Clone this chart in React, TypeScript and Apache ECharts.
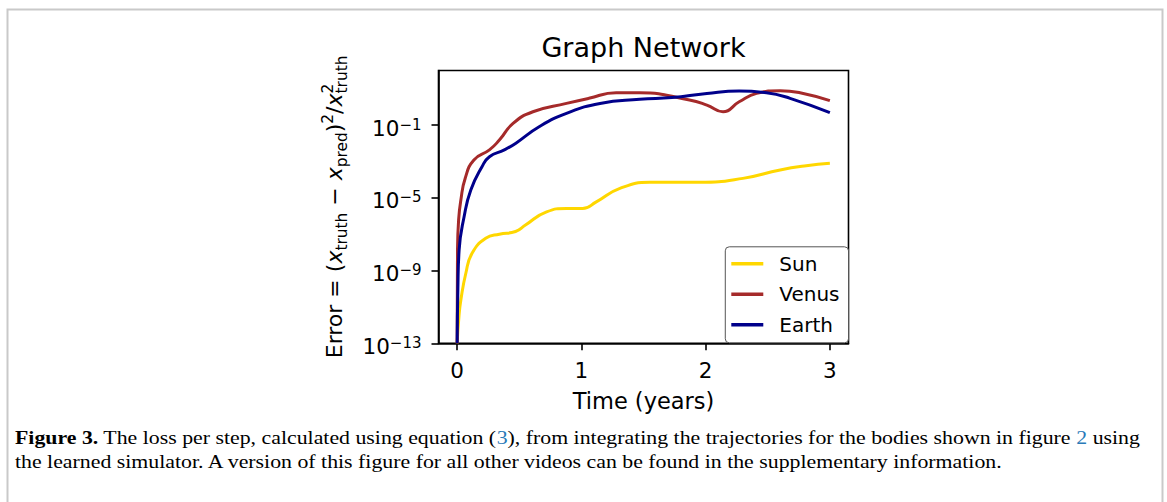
import React, { useEffect, useRef } from 'react';
import * as echarts from 'echarts';

// ---------- data ----------
const chartTitle = 'Graph Network';
const xAxisTitle = 'Time (years)';
const xTickValues = [0, 1, 2, 3];
const yTickExponents = [-13, -9, -5, -1];
const yMinExp = -13;
const yMaxExp = 2;
const xMin = -0.15;
const xMax = 3.15;

const seriesNames = ['Sun', 'Venus', 'Earth'];
const seriesColors = ['#FFD700', '#A52A2A', '#00008B'];

const sunTime = [0, 0.015, 0.03, 0.07, 0.12, 0.23, 0.34, 0.47, 0.55, 0.72, 0.88, 1.01, 1.12, 1.31, 1.55, 1.95, 2.3, 2.6, 2.81, 3.0];
const sunError = [1e-13, 3.2e-12, 2.4e-11, 7.1e-10, 8.9e-9, 5.9e-8, 1.0e-7, 1.4e-7, 3.2e-7, 1.7e-6, 2.6e-6, 2.6e-6, 6.0e-6, 3.3e-5, 7.1e-5, 7.1e-5, 1.17e-4, 3.4e-4, 5.8e-4, 7.9e-4];

const venusTime = [0, 0.003, 0.012, 0.03, 0.065, 0.135, 0.26, 0.34, 0.45, 0.61, 0.88, 1.06, 1.28, 1.47, 1.87, 2.01, 2.14, 2.27, 2.41, 2.6, 2.76, 3.0];
const venusError = [1e-13, 1.35e-8, 6.3e-7, 7.6e-6, 1.2e-4, 1.2e-3, 4.3e-3, 1.5e-2, 0.123, 0.54, 1.55, 2.95, 6.0, 6.0, 2.4, 1.26, 0.54, 1.9, 5.5, 7.8, 6.0, 2.2];

const earthTime = [0, 0.006, 0.016, 0.056, 0.11, 0.2, 0.26, 0.38, 0.47, 0.66, 0.88, 1.15, 1.47, 1.73, 2.01, 2.27, 2.49, 2.68, 3.0];
const earthError = [1e-13, 1e-10, 1.35e-8, 9.1e-7, 2.7e-5, 5.1e-4, 1.8e-3, 4.3e-3, 9.8e-3, 8.1e-2, 0.44, 1.55, 2.6, 3.3, 5.5, 7.4, 6.0, 2.95, 0.48];

const captionBold = 'Figure 3.';
const captionLine1a = ' The loss per step, calculated using equation (';
const captionRef1 = '3';
const captionLine1b = '), from integrating the trajectories for the bodies shown in figure ';
const captionRef2 = '2';
const captionLine1c = ' using';
const captionLine2 = 'the learned simulator. A version of this figure for all other videos can be found in the supplementary information.';

// ---------- component ----------
const FONT = 'DejaVu Sans';
const SERIF = 'Liberation Serif';

export default function App() {
  const ref = useRef<HTMLDivElement>(null);

  useEffect(() => {
    if (!ref.current) return;
    const chart = echarts.init(ref.current, undefined, { renderer: 'svg' });

    const canvas = document.createElement('canvas');
    const ctx = canvas.getContext('2d')!;
    const measure = (text: string, size: number, family: string, italic = false, bold = false) => {
      ctx.font = `${italic ? 'italic ' : ''}${bold ? 'bold ' : ''}${size}px "${family}"`;
      return ctx.measureText(text).width;
    };

    // grid geometry
    const gLeft = 438.5, gRight = 848.5, gTop = 70.5, gBottom = 343.3;

    // y label (mathtext-like) pieces
    const M = 22;
    const S = 15.4;
    const subShift = 5;
    const supShift = -9;
    type Piece = { text: string; size: number; italic?: boolean; shift: number; stackWith?: Piece };
    const pieces: Piece[] = [
      { text: 'Error = (', size: M, shift: 0 },
      { text: 'x', size: M, italic: true, shift: 0 },
      { text: 'truth', size: S, shift: subShift },
      { text: ' \u2212 ', size: M, shift: 0 },
      { text: 'x', size: M, italic: true, shift: 0 },
      { text: 'pred', size: S, shift: subShift },
      { text: ')', size: M, shift: 0 },
      { text: '2', size: S, shift: supShift },
      { text: '/', size: M, shift: 0 },
      { text: 'x', size: M, italic: true, shift: 0 },
      { text: '2', size: S, shift: supShift, stackWith: { text: 'truth', size: S, shift: subShift } },
    ];
    const yLabelChildren: any[] = [];
    let cursor = 0;
    const mkText = (p: Piece, x: number) => ({
      type: 'text',
      x,
      y: p.shift - 0.346 * p.size,
      style: {
        text: p.text,
        fontSize: p.size,
        fontFamily: FONT,
        fontStyle: p.italic ? 'italic' : 'normal',
        fill: '#000',
        align: 'left',
        verticalAlign: 'middle',
      },
    });
    for (const p of pieces) {
      yLabelChildren.push(mkText(p, cursor));
      let adv = measure(p.text, p.size, FONT, !!p.italic);
      if (p.stackWith) {
        yLabelChildren.push(mkText(p.stackWith, cursor));
        adv = Math.max(adv, measure(p.stackWith.text, p.stackWith.size, FONT));
      }
      cursor += adv;
    }
    const yLabelTotal = cursor;
    const plotMidY = (gTop + gBottom) / 2;

    // caption scaling
    const capSize = 18;
    const line1Width =
      measure(captionBold, capSize, SERIF, false, true) +
      measure(captionLine1a + captionRef1 + captionLine1b + captionRef2 + captionLine1c, capSize, SERIF);
    const capScale = (1140 - 15) / line1Width;
    const richCap = {
      n: { fontSize: capSize, fontFamily: SERIF, fill: '#000' },
      b: { fontSize: capSize, fontFamily: SERIF, fontWeight: 'bold', fill: '#000' },
      l: { fontSize: capSize, fontFamily: SERIF, fill: '#2a7ab8' },
    };

    const makeSeries = (name: string, color: string, t: number[], v: number[]) => ({
      type: 'line',
      name,
      data: t.map((tt, i) => [tt, Math.log10(v[i])]),
      symbol: 'none',
      showSymbol: false,
      smooth: 0.5,
      clip: true,
      lineStyle: { color, width: 3 },
      itemStyle: { color },
    });

    const option: any = {
      animation: false,
      backgroundColor: '#fff',
      grid: {
        left: gLeft,
        right: 1167 - gRight,
        top: gTop,
        bottom: 502 - gBottom,
        containLabel: false,
        outerBoundsMode: 'none',
        show: true,
        borderColor: '#000',
        borderWidth: 1.6,
        backgroundColor: 'transparent',
      },
      xAxis: {
        type: 'value',
        min: xMin,
        max: xMax,
        axisLine: { show: true, onZero: false, lineStyle: { color: '#000', width: 1.6 } },
        axisTick: { show: true, inside: false, length: 7, lineStyle: { color: '#000', width: 1.6 }, customValues: xTickValues },
        axisLabel: { customValues: xTickValues, color: '#000', fontSize: 21.5, fontFamily: FONT, margin: 16 },
        splitLine: { show: false },
      },
      yAxis: {
        type: 'value',
        min: yMinExp,
        max: yMaxExp,
        axisLine: { show: true, onZero: false, lineStyle: { color: '#000', width: 1.6 } },
        axisTick: { show: true, inside: false, length: 7, lineStyle: { color: '#000', width: 1.6 }, customValues: yTickExponents },
        axisLabel: {
          customValues: yTickExponents,
          margin: 17,
          padding: [6, 0, 0, 0],
          formatter: (v: number) => `{b|10}{s|${v < 0 ? '\u2212' : ''}${Math.abs(v)}}`,
          rich: {
            b: { fontSize: 21.5, fontFamily: FONT, color: '#000', lineHeight: 22, verticalAlign: 'bottom' },
            s: { fontSize: 15, fontFamily: FONT, color: '#000', lineHeight: 13, verticalAlign: 'top' },
          },
        },
        splitLine: { show: false },
      },
      legend: {
        data: seriesNames,
        orient: 'vertical',
        right: 1167 - gRight,
        bottom: 502 - gBottom + 0.5,
        icon: 'rect',
        itemWidth: 32,
        itemHeight: 3.5,
        itemGap: 10.5,
        padding: [7, 9, 8, 6],
        backgroundColor: '#fff',
        borderColor: '#555',
        borderWidth: 1,
        borderRadius: 4,
        textStyle: { fontSize: 20, fontFamily: FONT, color: '#000', padding: [0, 0, 0, 11], lineHeight: 20 },
      },
      series: [
        makeSeries(seriesNames[0], seriesColors[0], sunTime, sunError),
        makeSeries(seriesNames[1], seriesColors[1], venusTime, venusError),
        makeSeries(seriesNames[2], seriesColors[2], earthTime, earthError),
      ],
      graphic: [
        {
          type: 'polyline',
          shape: { points: [[7.5, 502], [7.5, 9.5], [1162.5, 9.5], [1162.5, 502]] },
          style: { stroke: '#c9c9c9', lineWidth: 2, fill: 'none' },
          silent: true,
        },
        {
          type: 'text',
          x: (gLeft + gRight) / 2,
          y: 47.5,
          style: { text: chartTitle, fontSize: 27, fontFamily: FONT, fill: '#000', align: 'center', verticalAlign: 'middle' },
        },
        {
          type: 'text',
          x: (gLeft + gRight) / 2,
          y: 401,
          style: { text: xAxisTitle, fontSize: 22.5, fontFamily: FONT, fill: '#000', align: 'center', verticalAlign: 'middle' },
        },
        {
          type: 'group',
          x: 342,
          y: plotMidY + yLabelTotal / 2,
          rotation: Math.PI / 2,
          children: yLabelChildren,
        },
        {
          type: 'text',
          x: 15,
          y: 438,
          scaleX: capScale,
          style: {
            text: `{b|${captionBold}}{n|${captionLine1a}}{l|${captionRef1}}{n|${captionLine1b}}{l|${captionRef2}}{n|${captionLine1c}}`,
            rich: richCap,
            fontSize: capSize,
            fontFamily: SERIF,
            fill: '#000',
            align: 'left',
            verticalAlign: 'middle',
          },
        },
        {
          type: 'text',
          x: 15,
          y: 462,
          scaleX: capScale,
          style: {
            text: `{n|${captionLine2}}`,
            rich: richCap,
            fontSize: capSize,
            fontFamily: SERIF,
            fill: '#000',
            align: 'left',
            verticalAlign: 'middle',
          },
        },
      ],
    };

    chart.setOption(option);
    return () => chart.dispose();
  }, []);

  return (
    <div
      ref={ref}
      style={{ position: 'fixed', left: 0, top: 0, width: 1167, height: 502, background: '#fff' }}
    />
  );
}
